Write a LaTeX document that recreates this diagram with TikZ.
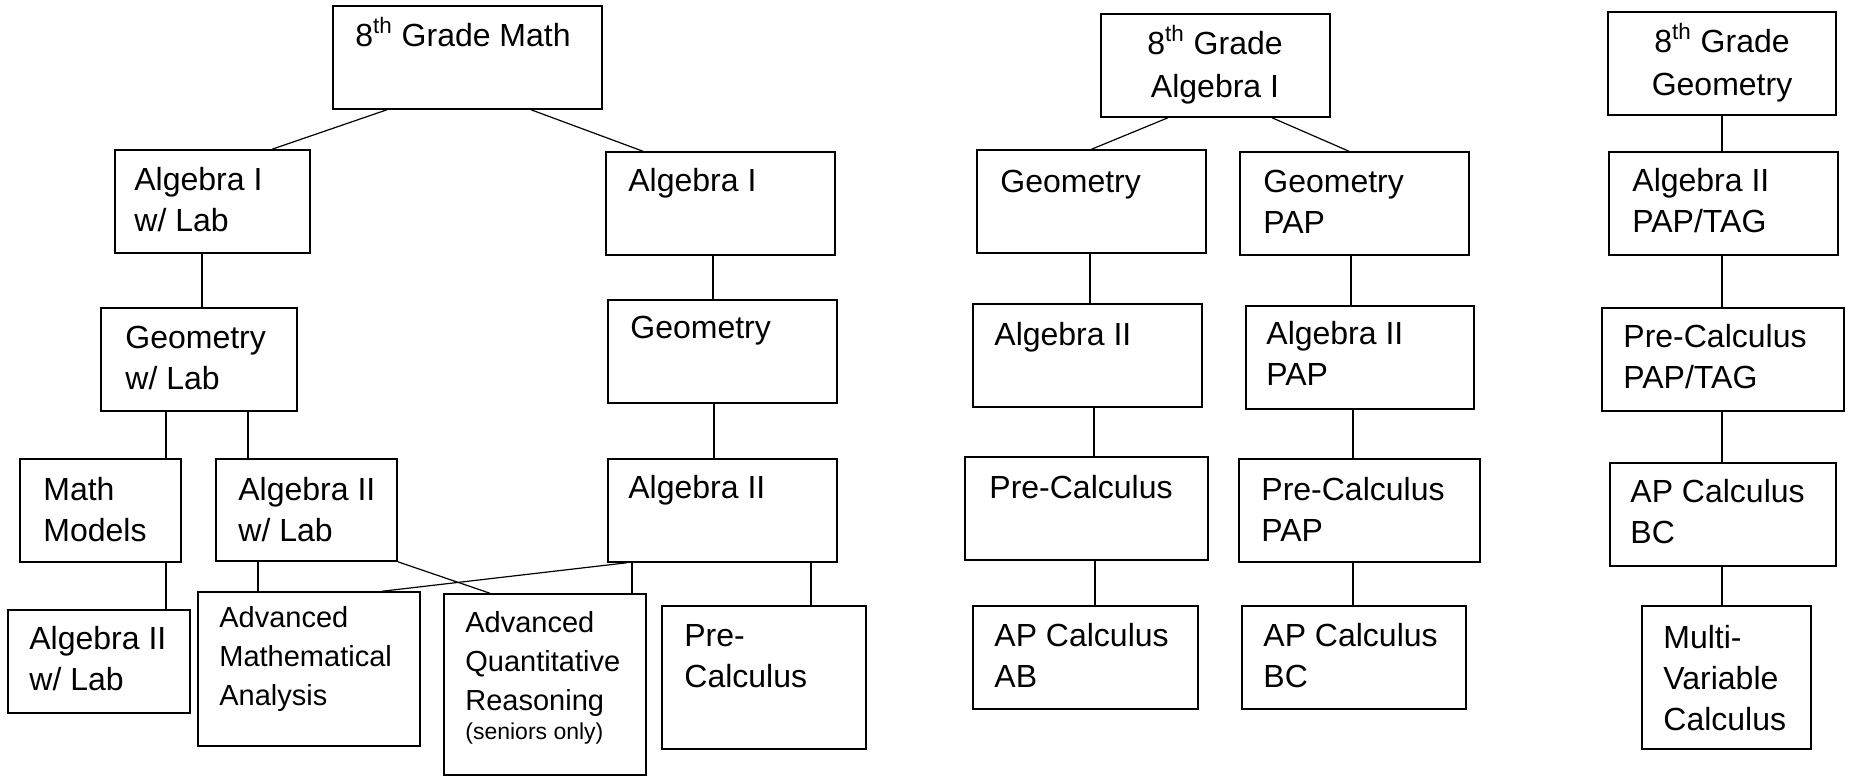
\documentclass[tikz,border=0pt]{standalone}
\usepackage{fontspec}
\setmainfont{Liberation Sans}
\usetikzlibrary{fit}

\tikzset{
	course/.style={draw, line width=0.75pt, inner sep=0pt},
	coursetext/.style={anchor=base west, inner sep=0pt, align=left, font=\fontsize{16}{20.5}\selectfont},
	smalltext/.style={coursetext, font=\fontsize{14.5}{19.5}\selectfont},
	gradetext/.style={anchor=base, inner sep=0pt, align=center, font=\fontsize{16}{21.5}\selectfont},
	link/.style={line width=0.6pt}
}

\begin{document}
\begin{tikzpicture}[x=0.5pt, y=-0.5pt]
	
	\useasboundingbox (0,0) rectangle (1849,777);
	
	% boxes
	\node[course, fit={(333,6) (602,109)}] (m8) {};
	\node[course, fit={(115,150) (310,253)}] (alglab) {};
	\node[course, fit={(606,152) (835,255)}] (alg1) {};
	\node[course, fit={(101,308) (297,411)}] (geolab) {};
	\node[course, fit={(608,300) (837,403)}] (geo) {};
	\node[course, fit={(20,459) (181,562)}] (mathmod) {};
	\node[course, fit={(216,459) (397,561)}] (alg2lab) {};
	\node[course, fit={(608,459) (837,562)}] (alg2) {};
	\node[course, fit={(8,610) (190,713)}] (alg2lab2) {};
	\node[course, fit={(198,592) (420,746)}] (ama) {};
	\node[course, fit={(444,594) (646,775)}] (aqr) {};
	\node[course, fit={(662,606) (866,749)}] (pc1) {};
	
	\node[course, fit={(1101,14) (1330,117)}] (a8) {};
	\node[course, fit={(977,150) (1206,253)}] (geo2) {};
	\node[course, fit={(1240,152) (1469,255)}] (geopap) {};
	\node[course, fit={(973,304) (1202,407)}] (alg22) {};
	\node[course, fit={(1246,306) (1474,409)}] (alg2pap) {};
	\node[course, fit={(965,457) (1208,560)}] (pc2) {};
	\node[course, fit={(1239,459) (1480,562)}] (pcpap) {};
	\node[course, fit={(973,606) (1198,709)}] (apab) {};
	\node[course, fit={(1242,606) (1466,709)}] (apbc2) {};
	
	\node[course, fit={(1608,12) (1836,115)}] (g8) {};
	\node[course, fit={(1609,152) (1838,255)}] (alg2pt) {};
	\node[course, fit={(1602,308) (1844,411)}] (pcpt) {};
	\node[course, fit={(1610,463) (1836,566)}] (apbc3) {};
	\node[course, fit={(1642,606) (1811,749)}] (mvc) {};
	
	% texts (placed at the baseline of their last line)
	\node[gradetext] (m8t) at (463,46) {8\textsuperscript{th} Grade Math};
	\node[coursetext] (alglabt) at (134,231) {Algebra I\\w/ Lab};
	\node[coursetext] (alg1t) at (628,191) {Algebra I};
	\node[coursetext] (geolabt) at (125,389) {Geometry\\w/ Lab};
	\node[coursetext] (geot) at (630,338) {Geometry};
	\node[coursetext] (mathmodt) at (43,541) {Math\\Models};
	\node[coursetext] (alg2labt) at (238,541) {Algebra II\\w/ Lab};
	\node[coursetext] (alg2t) at (628,498) {Algebra II};
	\node[coursetext] (alg2lab2t) at (29,690) {Algebra II\\w/ Lab};
	\node[smalltext] (amat) at (219,705) {Advanced\\Mathematical\\Analysis};
	\node[smalltext] (aqrt) at (465,739) {Advanced\\Quantitative\\Reasoning\\[-5pt]{\fontsize{11.5}{13}\selectfont (seniors only)}};
	\node[coursetext] (pc1t) at (684,687) {Pre-\\Calculus};
	
	\node[gradetext] (a8t) at (1215,97) {8\textsuperscript{th} Grade\\Algebra I};
	\node[coursetext] (geo2t) at (1000,192) {Geometry};
	\node[coursetext] (geopapt) at (1263,233) {Geometry\\PAP};
	\node[coursetext] (alg22t) at (994,345) {Algebra II};
	\node[coursetext] (alg2papt) at (1266,385) {Algebra II\\PAP};
	\node[coursetext] (pc2t) at (989,498) {Pre-Calculus};
	\node[coursetext] (pcpapt) at (1261,541) {Pre-Calculus\\PAP};
	\node[coursetext] (apabt) at (994,687) {AP Calculus\\AB};
	\node[coursetext] (apbc2t) at (1263,687) {AP Calculus\\BC};
	
	\node[gradetext] (g8t) at (1722,95) {8\textsuperscript{th} Grade\\Geometry};
	\node[coursetext] (alg2ptt) at (1632,232) {Algebra II\\PAP/TAG};
	\node[coursetext] (pcptt) at (1623,388) {Pre-Calculus\\PAP/TAG};
	\node[coursetext] (apbc3t) at (1630,543) {AP Calculus\\BC};
	\node[coursetext] (mvct) at (1663,730) {Multi-\\Variable\\Calculus};
	
	% connectors
	\draw[link] ([xshift=-40.25pt]m8.south) -- ([xshift=29.75pt]alglab.north);
	\draw[link] ([xshift=31.75pt]m8.south) -- ([xshift=-38.75pt]alg1.north);
	\draw[link] ([xshift=-5.25pt]alglab.south) -- ([xshift=1.5pt]geolab.north);
	\draw[link] ([xshift=-3.75pt]alg1.south) -- ([xshift=-4.75pt]geo.north);
	\draw[link] ([xshift=-16.5pt]geolab.south) -- ([xshift=32.75pt]mathmod.north);
	\draw[link] ([xshift=24.5pt]geolab.south) -- ([xshift=-29.25pt]alg2lab.north);
	\draw[link] ([xshift=-4.25pt]geo.south) -- ([xshift=-4.25pt]alg2.north);
	\draw[link] ([xshift=32.75pt]mathmod.south) -- ([xshift=33.5pt]alg2lab2.north);
	\draw[link] ([xshift=-24.25pt]alg2lab.south) -- ([xshift=-25.5pt]ama.north);
	\draw[link] (alg2lab.south east) -- ([xshift=-27.5pt]aqr.north);
	\draw[link] ([xshift=-47.75pt]alg2.south) -- ([xshift=36.5pt]ama.north);
	\draw[link] ([xshift=-45.25pt]alg2.south) -- ([xshift=43.5pt]aqr.north);
	\draw[link] ([xshift=44.25pt]alg2.south) -- ([xshift=23.5pt]pc1.north);
	
	\draw[link] ([xshift=-23.75pt]a8.south) -- (geo2.north);
	\draw[link] ([xshift=28.25pt]a8.south) -- ([xshift=-2.75pt]geopap.north);
	\draw[link] ([xshift=-0.75pt]geo2.south) -- ([xshift=1.25pt]alg22.north);
	\draw[link] ([xshift=-1.75pt]geopap.south) -- ([xshift=-4.5pt]alg2pap.north);
	\draw[link] ([xshift=3.25pt]alg22.south) -- ([xshift=3.75pt]pc2.north);
	\draw[link] ([xshift=-3.5pt]alg2pap.south) -- ([xshift=-3.25pt]pcpap.north);
	\draw[link] ([xshift=4.25pt]pc2.south) -- ([xshift=4.75pt]apab.north);
	\draw[link] ([xshift=-3.25pt]pcpap.south) -- ([xshift=-0.5pt]apbc2.north);
	
	\draw[link] (g8.south) -- ([xshift=-0.75pt]alg2pt.north);
	\draw[link] ([xshift=-0.75pt]alg2pt.south) -- ([xshift=-0.5pt]pcpt.north);
	\draw[link] ([xshift=-0.5pt]pcpt.south) -- ([xshift=-0.5pt]apbc3.north);
	\draw[link] ([xshift=-0.5pt]apbc3.south) -- ([xshift=-2.25pt]mvc.north);
	
\end{tikzpicture}
\end{document}
